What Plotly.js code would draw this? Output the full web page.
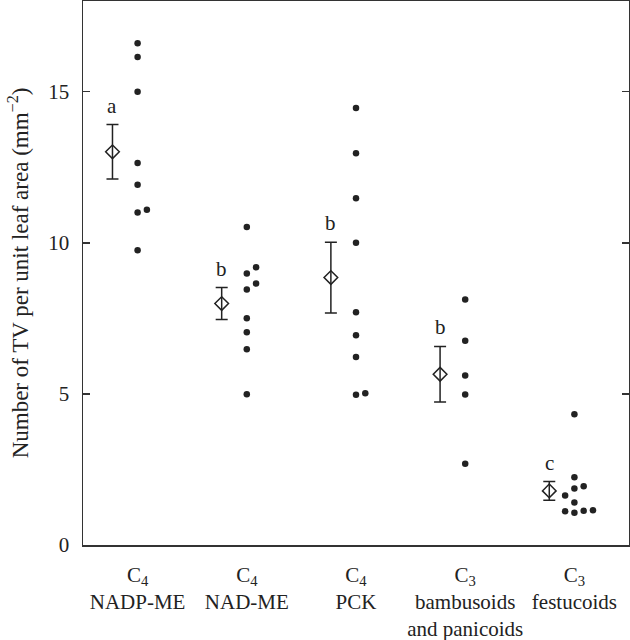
<!DOCTYPE html>
<html><head><meta charset="utf-8">
<script src="https://cdn.plot.ly/plotly-3.0.1.min.js"></script>
<style>html,body{margin:0;padding:0;background:#fff}</style>
</head><body><div id="chart" style="width:630px;height:640px"></div>
<script>
// Category labels
const categories = [
  "C<sub>4</sub><br>NADP-ME",
  "C<sub>4</sub><br>NAD-ME",
  "C<sub>4</sub><br>PCK",
  "C<sub>3</sub><br>bambusoids<br>and panicoids",
  "C<sub>3</sub><br>festucoids"
];
// Individual species values (TV per mm^2) and side-by-side slot for overlapping points
const nadpmeValues = [16.60, 16.15, 15.00, 12.64, 11.92, 11.00, 11.09, 9.75];
const nadpmeSlots  = [0, 0, 0, 0, 0, 0, 1, 0];
const nadmeValues  = [10.52, 8.98, 9.19, 8.45, 8.65, 7.50, 7.04, 6.48, 4.99];
const nadmeSlots   = [0, 0, 1, 0, 1, 0, 0, 0, 0];
const pckValues    = [14.46, 12.96, 11.47, 10.00, 7.70, 6.94, 6.22, 4.97, 5.02];
const pckSlots     = [0, 0, 0, 0, 0, 0, 0, 0, 1];
const bambValues   = [8.12, 6.76, 5.61, 4.98, 2.69];
const bambSlots    = [0, 0, 0, 0, 0];
const festValues   = [4.33, 2.24, 1.87, 1.94, 1.64, 1.41, 1.12, 1.07, 1.13, 1.15];
const festSlots    = [0, 0, 0, 1, -1, 0, -1, 0, 1, 2];
// Group means, error bars and significance letters
const means   = [13.01, 7.99, 8.85, 5.65, 1.79];
const errors  = [0.90, 0.53, 1.17, 0.92, 0.31];
const letters = ["a", "b", "b", "b", "c"];

const groups = [
  [nadpmeValues, nadpmeSlots],
  [nadmeValues, nadmeSlots],
  [pckValues, pckSlots],
  [bambValues, bambSlots],
  [festValues, festSlots]
];
const slotStep = 0.085;
const meanOffset = -0.23;
const ink = '#222';
const serif = 'Liberation Serif';

const px = [], py = [];
groups.forEach((g, i) => {
  g[0].forEach((v, j) => { px.push(i + 1 + g[1][j] * slotStep); py.push(v); });
});
const mx = means.map((m, i) => i + 1 + meanOffset);

const traces = [
  { type: 'scatter', mode: 'markers', x: px, y: py,
    marker: { size: 6.5, color: ink }, hoverinfo: 'skip' },
  { type: 'scatter', mode: 'markers', x: mx, y: means,
    marker: { symbol: 'diamond-open', size: 10.5, color: ink, line: { width: 1.5, color: ink } },
    error_y: { type: 'data', array: errors, visible: true, color: ink, thickness: 1.5, width: 6 },
    hoverinfo: 'skip' }
];

const annotations = letters.map((t, i) => ({
  x: mx[i], y: means[i] + errors[i], xref: 'x', yref: 'y',
  text: t, showarrow: false, yanchor: 'bottom', yshift: 5,
  font: { size: 21, color: ink, family: serif }
}));

const layout = {
  width: 630, height: 640,
  margin: { l: 83, r: 1, t: 1, b: 95 },
  paper_bgcolor: '#fff', plot_bgcolor: '#fff',
  showlegend: false,
  font: { family: serif, size: 20, color: ink },
  xaxis: {
    range: [0.5, 5.5], tickvals: [1, 2, 3, 4, 5], ticktext: categories,
    ticks: '', showline: true, mirror: true, linecolor: '#333', linewidth: 1.5,
    showgrid: false, zeroline: false, ticklabelstandoff: 10,
    tickfont: { size: 21, family: serif, color: ink }
  },
  yaxis: {
    range: [0, 18], tickvals: [0, 5, 10, 15], ticks: 'inside', ticklen: 7,
    tickwidth: 1.5, tickcolor: '#333', showline: true, mirror: 'ticks',
    linecolor: '#333', linewidth: 1.5, showgrid: false, zeroline: false,
    ticklabelstandoff: 8,
    tickfont: { size: 21, family: serif, color: ink },
    title: { text: 'Number of TV per unit leaf area (mm<sup>−2</sup>)', standoff: 13,
             font: { size: 23, family: serif, color: ink } }
  },
  annotations: annotations
};

Plotly.newPlot('chart', traces, layout, { displayModeBar: false, staticPlot: true });
</script>
</body></html>
